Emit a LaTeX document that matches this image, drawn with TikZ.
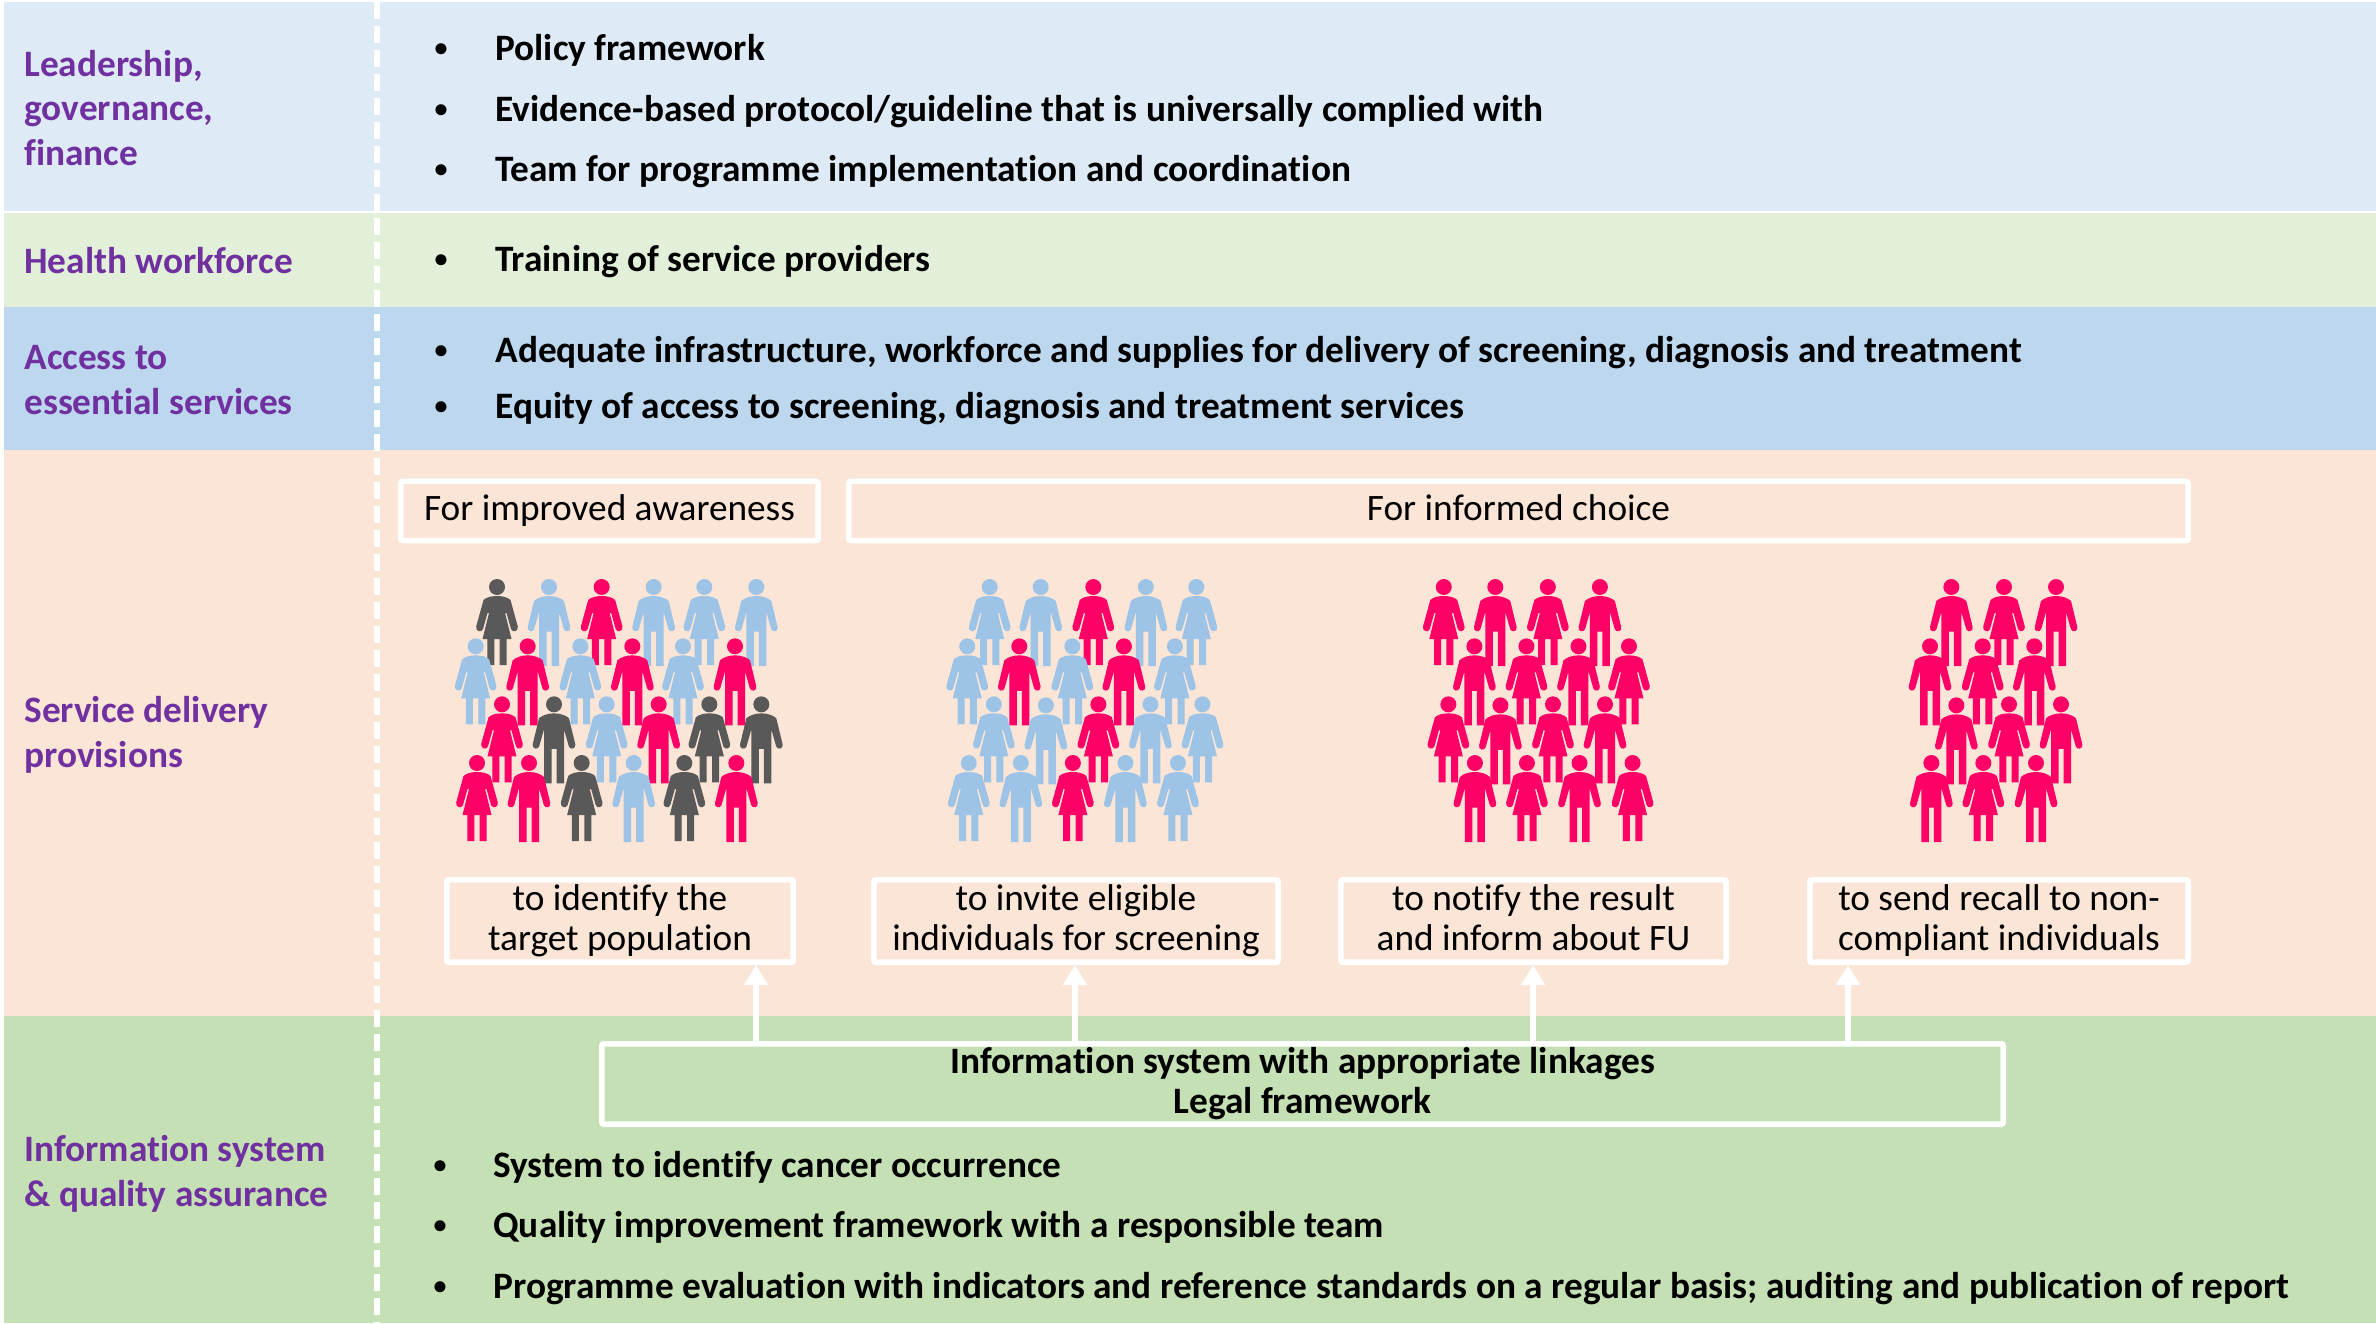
\documentclass[tikz,border=0pt]{standalone}
\usepackage{fontspec}
\setmainfont{Carlito}[Ligatures=NoCommon]
\usetikzlibrary{arrows.meta}
\definecolor{bandA}{HTML}{DEEAF6}
\definecolor{bandB}{HTML}{E2F0D9}
\definecolor{bandC}{HTML}{BDD7EE}
\definecolor{bandD}{HTML}{FBE5D6}
\definecolor{bandE}{HTML}{C5E0B4}
\definecolor{purp}{HTML}{7030A0}
\definecolor{pk}{HTML}{FF0066}
\definecolor{bl}{HTML}{9DC3E6}
\definecolor{dk}{HTML}{595959}
\tikzset{
  lab/.style={anchor=west,align=left,inner sep=0pt,text=purp,font=\fontsize{18.65}{22.3}\selectfont\bfseries},
  item/.style={anchor=west,inner sep=0pt,text height=12pt,text depth=4pt,text=black,yshift=-1.2pt,font=\fontsize{18.65}{20}\selectfont\bfseries},
  bul/.style={inner sep=0pt,text=black,font=\fontsize{13}{14}\selectfont\bfseries},
  wbox/.style={draw=white,line width=2.8pt,rounded corners=1pt,inner sep=0pt,align=center,text=black,font=\fontsize{18.65}{20}\selectfont},
  up/.style={draw=white,line width=3pt,-{Triangle[length=10pt,width=11.5pt]}},
  sep/.style={draw=white,line width=3pt,dash pattern=on 8.5pt off 3.5pt}
}
\newcommand{\personM}[3]{\begin{scope}[shift={(#1,#2)}]
\fill[#3] (0,8) circle[radius=8];
\fill[#3] (0,17) .. controls (-6,17) and (-12,19) .. (-15,22) -- (-21.3,48) .. controls (-22.3,52.5) and (-16,54) .. (-14.8,50) -- (-10,33) -- (-10,87) -- (-2.5,87) -- (-2.5,52.5) -- (2.5,52.5) -- (2.5,87) -- (10,87) -- (10,33) -- (14.8,50) .. controls (16,54) and (22.3,52.5) .. (21.3,48) -- (15,22) .. controls (12,19) and (6,17) .. (0,17) -- cycle;
\end{scope}}
\newcommand{\personF}[3]{\begin{scope}[shift={(#1,#2)}]
\fill[#3] (0,8) circle[radius=8];
\fill[#3] (0,17) .. controls (-6,17) and (-11,18.5) .. (-13.5,21) -- (-20.8,47.5) .. controls (-21.8,52.5) and (-15.3,54) .. (-14,50) -- (-9.5,34) -- (-8,34) -- (-14.5,60) -- (-9.7,60) -- (-9.7,86) -- (-2.7,86) -- (-2.7,60) -- (2.7,60) -- (2.7,86) -- (9.7,86) -- (9.7,60) -- (14.5,60) -- (8,34) -- (9.5,34) -- (14,50) .. controls (15.3,54) and (21.8,52.5) .. (20.8,47.5) -- (13.5,21) .. controls (11,18.5) and (6,17) .. (0,17) -- cycle;
\end{scope}}
\begin{document}
\begin{tikzpicture}[x=0.5pt,y=-0.5pt]
\useasboundingbox (0,0) rectangle (2376,1323);
\fill[white] (0,0) rectangle (2376,1323);
% bands
\fill[bandA] (4,2) rectangle (2376,211);
\fill[bandB] (4,213) rectangle (2376,307);
\fill[bandC] (4,307) rectangle (2376,450);
\fill[bandD] (4,450) rectangle (2376,1016);
\fill[bandE] (4,1016) rectangle (2376,1323);
\draw[sep] (377,2) -- (377,1323);
% left labels
\node[lab] (l1) at (24,108) {Leadership,\\governance,\\finance};
\node[lab] (l2) at (24,261) {Health workforce};
\node[lab] (l3) at (24,380) {Access to\\essential services};
\node[lab] (l4) at (24,735) {Service delivery\\provisions};
\node[lab] (l5) at (24,1174) {Information system\\\& quality assurance};
% bullets
\foreach \nm/\bx/\tx/\yy/\txt in {
 a/441/495/50/{Policy framework},
 b/441/495/111/{Evidence-based protocol/guideline that is universally complied with},
 c/441/495/171/{Team for programme implementation and coordination},
 d/441/495/261/{Training of service providers},
 e/441/495/352/{Adequate infrastructure, workforce and supplies for delivery of screening, diagnosis and treatment},
 f/441/495/408/{Equity of access to screening, diagnosis and treatment services},
 g/440/493/1167/{System to identify cancer occurrence},
 h/440/493/1227/{Quality improvement framework with a responsible team},
 i/440/493/1288/{Programme evaluation with indicators and reference standards on a regular basis; auditing and publication of report}}{
  \node[bul] (b\nm) at (\bx,\yy) {•};
  \node[item] (t\nm) at (\tx,\yy) {\txt};
}
% header boxes
\node[wbox,minimum width=208.6pt,minimum height=29.6pt] (aw) at (609.5,511) {For improved awareness\vphantom{g}};
\node[wbox,minimum width=669.6pt,minimum height=29.6pt] (ch) at (1518.5,511) {For informed choice\vphantom{g}};
% action boxes
\node[wbox,minimum width=173.2pt,minimum height=41.2pt] (n1) at (620,921) {to identify the\\target population};
\node[wbox,minimum width=202.2pt,minimum height=41.2pt] (n2) at (1076,921) {to invite eligible\\individuals for screening};
\node[wbox,minimum width=192.7pt,minimum height=41.2pt] (n3) at (1533.5,921) {to notify the result\\and inform about FU\vphantom{g}};
\node[wbox,minimum width=189.2pt,minimum height=41.2pt] (n4) at (1999,921) {to send recall to non-\\compliant individuals};
% info box
\node[wbox,minimum width=700.7pt,minimum height=40.2pt,font=\fontsize{18.65}{20}\selectfont\bfseries] (inf) at (1302.5,1084) {Information system with appropriate linkages\\Legal framework};
% arrows
\coordinate (a1) at (756,1000);
\coordinate (a2) at (1075,1000);
\coordinate (a3) at (1533,1000);
\coordinate (a4) at (1848,1000);
\draw[up] (inf.north -| a1) -- (n1.south -| a1);
\draw[up] (inf.north -| a2) -- (n2.south -| a2);
\draw[up] (inf.north -| a3) -- (n3.south -| a3);
\draw[up] (inf.north -| a4) -- (n4.south -| a4);
% people group 1
\foreach \zx/\zy/\ty/\col in {
 291/357/F/dk,447/357/M/bl,605/357/F/pk,761/357/M/bl,913/357/F/bl,1069/357/M/bl,
 227/535/F/bl,383/535/M/pk,541/535/F/bl,697/535/M/pk,849/535/F/bl,1005/535/M/pk,
 306/709/F/pk,462/709/M/dk,620/709/F/bl,776/709/M/pk,928/709/F/dk,1084/709/M/dk,
 231/885/F/pk,387/885/M/pk,545/885/F/dk,701/885/M/bl,853/885/F/dk,1009/885/M/pk}{
 \csname person\ty\endcsname{400+\zx/3}{460+\zy/3}{\col}
}
% people group 2 and 3
\foreach \zx/\zy/\ty/\col in {
 117/57/F/bl,217/57/M/bl,320/57/F/pk,423/57/M/bl,522/57/F/bl,
 73/235/F/bl,175/235/M/pk,279/235/F/bl,380/235/M/pk,480/235/F/bl,
 125/409/F/bl,227/412/M/bl,330/409/F/pk,432/409/M/bl,534/409/F/bl,
 76/585/F/bl,178/585/M/bl,280/585/F/pk,383/585/M/bl,486/585/F/bl,
 1007/57/F/pk,1108/57/M/pk,1211/57/F/pk,1313/57/M/pk,
 1067/235/M/pk,1169/235/F/pk,1271/235/M/pk,1370/235/F/pk,
 1016/409/F/pk,1118/412/M/pk,1221/409/F/pk,1323/409/M/pk,
 1068/585/M/pk,1170/585/F/pk,1273/585/M/pk,1377/585/F/pk}{
 \csname person\ty\endcsname{930+\zx/1.96}{560+\zy/3}{\col}
}
% people group 4
\foreach \zx/\zy/\ty/\col in {
 454/357/M/pk,612/357/F/pk,768/357/M/pk,
 390/535/M/pk,548/535/F/pk,703/535/M/pk,
 469/712/M/pk,627/709/F/pk,783/709/M/pk,
 394/885/M/pk,550/885/F/pk,708/885/M/pk}{
 \csname person\ty\endcsname{1800+\zx/3}{460+\zy/3}{\col}
}
\end{tikzpicture}
\end{document}
